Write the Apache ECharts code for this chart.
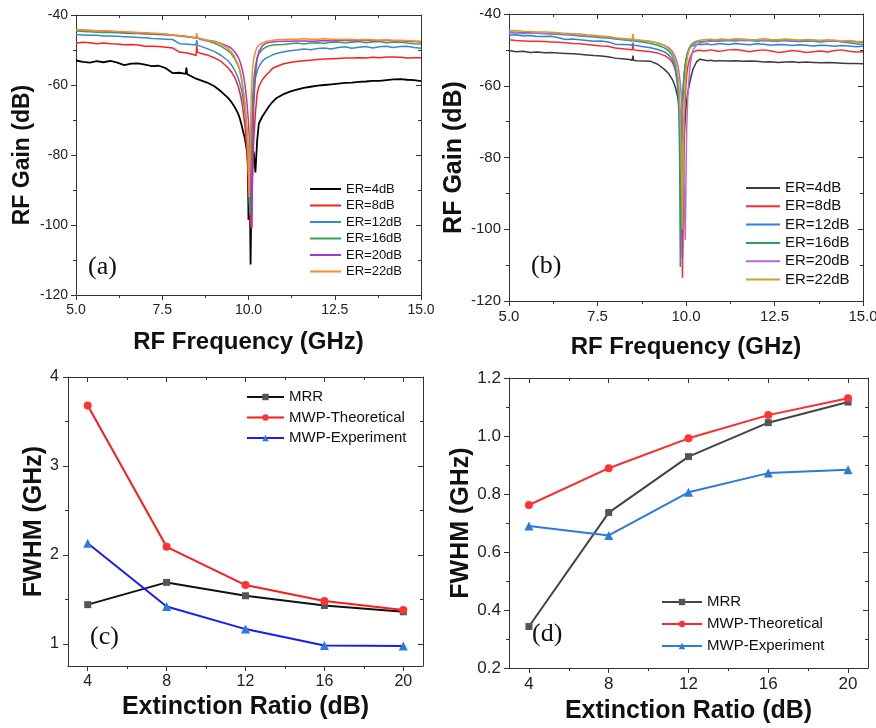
<!DOCTYPE html>
<html>
<head>
<meta charset="utf-8">
<script src="https://cdn.jsdelivr.net/npm/echarts@6/dist/echarts.min.js"></script>
<style>html,body{margin:0;padding:0;background:#fff}#c{width:876px;height:728px}</style>
</head>
<body>
<div id="c"></div>
<script>
// ---------------- DATA ----------------
const erNames = ['ER=4dB','ER=8dB','ER=12dB','ER=16dB','ER=20dB','ER=22dB'];

// Panel (a): frequency grid (GHz) and RF gain (dB)
const freqA = [
  5.0,5.2,5.4,5.6,5.8,6.0,6.2,6.4,6.6,6.8,7.0,7.2,7.4,7.6,7.8,8.0,
  8.18,8.2,8.22,8.4,
  8.48,8.5,8.52,8.6,8.8,
  9.0,9.2,9.4,9.5,9.6,9.7,9.75,9.8,9.85,9.9,9.95,9.98,
  10.0,10.02,10.04,10.06,10.08,10.1,10.12,10.15,10.2,10.25,10.3,10.4,10.5,10.6,10.7,10.8,
  11.0,11.2,11.4,11.6,11.8,12.0,12.2,12.4,12.6,12.8,13.0,13.2,13.4,13.6,13.8,14.0,14.2,14.4,14.6,14.8,15.0
];
const gainA4 = [
  -53.0,-53.4,-53.6,-53.2,-53.5,-53.1,-53.6,-54.3,-53.9,-53.8,-54.2,-54.6,-54.5,-55.2,-56.6,-56.5,
  -56.8,-55.0,-56.9,-57.8,
  -58.2,-58.3,-58.4,-58.6,-59.3,
  -60.3,-61.8,-63.6,-64.8,-66.3,-68.2,-69.6,-71.5,-73.5,-75.5,-78.5,-82.0,
  -98.5,-86.0,-92.0,-111.3,-95.0,-88.0,-80.5,-79.0,-85.0,-76.0,-71.0,-69.0,-67.5,-66.0,-64.8,-63.8,
  -62.7,-61.9,-61.3,-60.8,-60.5,-60.2,-60.0,-59.8,-59.6,-59.4,-59.3,-59.1,-59.0,-58.8,-58.8,-58.6,-58.4,-58.3,-58.5,-58.6,-58.9
];
const gainA8 = [
  -48.1,-47.8,-47.9,-48.2,-48.0,-48.2,-48.3,-48.5,-48.4,-48.6,-48.9,-48.9,-49.0,-49.2,-49.4,-50.6,
  -50.8,-50.9,-51.0,-51.3,
  -51.6,-48.8,-50.6,-50.9,-51.4,
  -52.2,-53.2,-55.0,-56.2,-57.8,-60.3,-62.2,-64.5,-67.8,-71.9,-78.0,-84.0,
  -88.0,-92.0,-96.0,-99.5,-101.0,-93.0,-84.0,-76.0,-68.0,-62.5,-60.5,-58.5,-57.3,-56.3,-55.2,-54.8,
  -54.0,-53.6,-53.3,-53.1,-52.9,-52.7,-52.6,-52.5,-52.4,-52.3,-52.3,-52.2,-52.3,-52.1,-52.2,-52.0,-52.0,-52.1,-52.3,-52.2,-52.2
];
const gainA12 = [
  -45.6,-45.7,-45.8,-45.8,-46.0,-46.0,-46.1,-46.2,-46.3,-46.4,-46.5,-46.7,-46.8,-46.9,-47.0,-48.2,
  -48.3,-48.3,-48.3,-48.5,
  -48.6,-47.2,-48.6,-48.9,-49.6,
  -50.4,-51.5,-53.0,-54.2,-55.8,-58.0,-59.6,-61.5,-64.5,-68.0,-73.0,-78.0,
  -84.0,-90.0,-96.0,-90.0,-80.0,-74.0,-68.0,-62.0,-58.0,-56.0,-54.8,-53.2,-52.4,-51.9,-51.4,-51.0,
  -50.6,-50.2,-50.0,-49.7,-49.9,-49.6,-49.4,-49.7,-49.3,-49.1,-49.5,-49.2,-49.0,-49.4,-49.1,-48.9,-49.3,-49.0,-48.9,-49.3,-49.5
];
const gainA16 = [
  -44.6,-44.7,-44.8,-44.9,-45.0,-45.0,-45.1,-45.2,-45.3,-45.3,-45.4,-45.5,-45.6,-45.7,-45.8,-46.0,
  -46.2,-46.2,-46.3,-46.4,
  -46.6,-45.8,-46.6,-46.9,-47.4,
  -48.0,-48.9,-50.2,-51.0,-52.5,-54.5,-56.0,-58.5,-62.0,-66.5,-73.0,-79.0,
  -85.0,-91.0,-97.0,-88.0,-78.0,-70.0,-64.0,-58.5,-54.5,-52.3,-51.0,-49.9,-49.2,-48.8,-48.6,-48.5,
  -48.4,-48.2,-48.0,-48.3,-48.0,-47.9,-48.1,-47.8,-47.7,-48.0,-47.8,-47.6,-47.9,-47.7,-47.6,-47.9,-47.8,-47.7,-48.0,-48.2,-48.3
];
const gainA20 = [
  -44.2,-44.3,-44.4,-44.5,-44.6,-44.7,-44.8,-44.9,-45.0,-45.1,-45.2,-45.3,-45.4,-45.5,-45.7,-45.9,
  -46.1,-46.1,-46.2,-46.4,
  -46.6,-46.0,-46.6,-46.8,-47.2,
  -47.5,-48.1,-48.9,-49.5,-50.5,-52.0,-53.2,-54.8,-57.0,-60.0,-64.5,-68.0,
  -71.0,-74.5,-79.0,-85.0,-93.0,-101.0,-80.0,-66.0,-57.0,-52.5,-50.5,-48.8,-48.1,-47.8,-47.7,-47.6,
  -47.5,-47.5,-47.4,-47.4,-47.5,-47.4,-47.3,-47.4,-47.3,-47.2,-47.4,-47.3,-47.2,-47.4,-47.3,-47.2,-47.4,-47.3,-47.5,-47.6,-47.7
];
const gainA22 = [
  -44.2,-44.3,-44.4,-44.5,-44.6,-44.6,-44.7,-44.8,-44.9,-45.0,-45.1,-45.2,-45.3,-45.5,-45.7,-45.9,
  -46.1,-46.1,-46.2,-46.4,
  -46.5,-45.2,-46.5,-46.8,-47.2,
  -47.6,-48.3,-49.5,-50.5,-52.0,-54.2,-55.7,-58.0,-61.0,-65.2,-71.5,-77.0,
  -82.0,-92.0,-84.0,-72.0,-63.0,-58.0,-55.0,-52.5,-50.5,-49.2,-48.6,-48.0,-47.6,-47.4,-47.2,-47.1,
  -47.0,-46.9,-46.9,-46.8,-46.9,-46.9,-46.8,-46.9,-47.0,-46.9,-47.0,-47.1,-47.0,-47.1,-47.2,-47.1,-47.2,-47.3,-47.3,-47.4,-47.5
];

// Panel (b)
const freqB = [
  5.0,5.2,5.4,5.6,5.8,6.0,6.2,6.4,6.6,6.8,7.0,7.2,7.4,7.6,7.8,8.0,8.2,8.4,
  8.48,8.5,8.52,8.6,8.8,
  9.0,9.2,9.4,9.5,9.6,9.65,9.7,9.75,9.78,9.8,9.82,9.84,9.86,9.88,9.9,9.92,9.94,9.96,9.98,
  10.0,10.02,10.05,10.1,10.15,10.2,10.3,10.4,10.5,10.6,10.7,10.8,10.9,
  11.0,11.2,11.4,11.6,11.8,12.0,12.2,12.4,12.6,12.8,13.0,13.2,13.4,13.6,13.8,14.0,14.2,14.4,14.6,14.8,15.0
];
const gainB4 = [
  -50.2,-50.5,-50.4,-50.7,-50.6,-50.8,-50.7,-50.9,-51.0,-51.1,-51.2,-51.4,-51.6,-51.7,-51.9,-52.3,-52.5,-52.7,
  -52.9,-51.6,-52.9,-53.0,-53.1,
  -53.2,-54.0,-55.5,-56.5,-58.0,-59.0,-60.5,-62.5,-64.0,-65.5,-67.5,-70.0,-74.0,-82.0,-108.0,-88.0,-78.0,-72.5,-69.0,
  -66.0,-64.0,-62.0,-59.5,-57.2,-55.3,-53.3,-52.6,-52.8,-53.0,-52.9,-53.1,-53.0,
  -53.0,-53.1,-53.0,-53.2,-53.1,-53.2,-53.4,-53.3,-53.5,-53.4,-53.3,-53.5,-53.4,-53.5,-53.6,-53.5,-53.6,-53.7,-53.8,-53.8,-53.9
];
const gainB8 = [
  -47.2,-47.4,-47.5,-47.6,-47.6,-47.7,-47.8,-47.9,-48.0,-48.2,-48.3,-48.5,-48.7,-48.9,-49.0,-49.5,-49.7,-49.9,
  -50.0,-48.6,-50.0,-50.1,-50.3,
  -50.5,-50.9,-51.6,-52.2,-53.3,-54.2,-55.6,-58.0,-60.0,-62.0,-65.0,-69.0,-75.0,-86.0,-113.5,-90.0,-76.0,-68.0,-63.0,
  -59.5,-57.0,-54.8,-52.6,-51.3,-50.6,-50.2,-50.1,-50.3,-50.2,-50.0,-50.2,-50.4,
  -50.3,-50.0,-49.9,-50.2,-50.5,-50.2,-50.0,-50.3,-50.7,-50.5,-50.2,-50.4,-50.7,-50.5,-50.3,-50.6,-50.2,-50.0,-50.4,-50.6,-50.5
];
const gainB12 = [
  -45.9,-45.8,-46.1,-46.0,-46.3,-46.3,-46.2,-46.6,-47.1,-47.0,-47.2,-47.4,-47.6,-47.5,-47.8,-48.4,-48.5,-48.6,
  -48.7,-48.0,-48.7,-48.8,-49.1,
  -49.4,-49.9,-50.6,-51.3,-52.5,-53.6,-55.5,-59.0,-63.0,-68.0,-80.0,-110.5,-82.0,-70.0,-64.0,-60.0,-57.5,-55.5,-54.0,
  -52.8,-51.8,-50.7,-49.6,-49.0,-48.7,-48.5,-48.4,-48.5,-48.3,-48.6,-48.5,-48.3,
  -48.3,-48.5,-48.2,-48.4,-48.6,-48.3,-48.4,-48.7,-48.5,-48.6,-48.8,-48.6,-48.7,-48.9,-48.7,-48.8,-49.0,-48.8,-48.9,-49.1,-49.0
];
const gainB16 = [
  -45.0,-45.1,-45.2,-45.2,-45.4,-45.5,-45.5,-45.7,-45.8,-45.9,-46.1,-46.3,-46.4,-46.6,-46.7,-47.0,-47.2,-47.4,
  -47.5,-46.5,-47.5,-47.6,-47.9,
  -48.2,-48.7,-49.5,-50.2,-51.4,-52.4,-54.0,-57.0,-60.0,-63.5,-70.0,-82.0,-101.0,-80.0,-68.0,-62.0,-58.5,-56.0,-54.2,
  -52.8,-51.7,-50.5,-49.2,-48.5,-48.1,-47.8,-47.7,-47.6,-47.5,-47.3,-47.5,-47.6,
  -47.5,-47.4,-47.5,-47.3,-47.4,-47.6,-47.4,-47.5,-47.6,-47.4,-47.6,-47.7,-47.5,-47.6,-47.8,-47.6,-47.4,-47.8,-48.0,-48.3,-48.5
];
const gainB20 = [
  -45.3,-45.2,-45.5,-45.4,-45.3,-45.4,-45.6,-45.5,-45.7,-45.8,-45.9,-46.1,-46.2,-46.4,-46.5,-46.8,-47.0,-47.2,
  -47.3,-46.6,-47.3,-47.3,-47.5,
  -47.7,-48.1,-48.8,-49.3,-50.2,-51.0,-52.0,-53.5,-54.8,-56.0,-57.5,-59.5,-62.0,-65.0,-69.0,-74.0,-82.0,-95.0,-103.0,
  -85.0,-72.0,-63.0,-56.0,-52.0,-50.0,-48.6,-48.0,-47.8,-47.7,-47.6,-47.5,-47.4,
  -47.4,-47.3,-47.2,-47.4,-47.3,-47.2,-47.4,-47.3,-47.2,-47.4,-47.5,-47.3,-47.4,-47.5,-47.4,-47.6,-47.5,-47.7,-47.6,-47.8,-47.9
];
const gainB22 = [
  -44.6,-44.6,-44.8,-44.9,-45.0,-45.0,-45.1,-45.2,-45.4,-45.5,-45.6,-45.8,-45.9,-46.1,-46.3,-46.6,-46.8,-47.0,
  -47.1,-45.5,-47.1,-47.2,-47.4,
  -47.6,-48.1,-48.9,-49.6,-50.8,-51.8,-53.3,-55.8,-58.0,-60.5,-64.5,-70.0,-78.0,-88.0,-100.0,-82.0,-70.0,-63.0,-58.5,
  -55.5,-53.5,-51.5,-49.6,-48.6,-48.0,-47.5,-47.3,-47.2,-47.1,-47.0,-47.2,-47.1,
  -47.0,-47.1,-46.9,-47.0,-47.2,-47.1,-46.9,-47.1,-47.2,-47.0,-47.1,-47.3,-47.1,-47.2,-47.4,-47.2,-47.3,-47.5,-47.4,-47.6,-47.7
];

// Panels (c) and (d): FWHM (GHz) vs extinction ratio (dB)
const fwhmNames = ['MRR','MWP-Theoretical','MWP-Experiment'];
const erVals = [4, 8, 12, 16, 20];
const mrrC  = [1.44, 1.69, 1.54, 1.43, 1.36];
const theoC = [3.68, 2.09, 1.66, 1.48, 1.38];
const expC  = [2.13, 1.42, 1.165, 0.98, 0.975];
const mrrD  = [0.343, 0.736, 0.929, 1.046, 1.117];
const theoD = [0.762, 0.889, 0.992, 1.072, 1.130];
const expD  = [0.69, 0.657, 0.806, 0.872, 0.884];

// Tick values
const erTicks = [4, 8, 12, 16, 20];
const erMinor = [6, 10, 14, 18];
const fwhmTicksC = [1, 2, 3, 4];
const fwhmMinorC = [1.5, 2.5, 3.5];

// ---------------- STYLE ----------------
const SANS = 'Arial, "Liberation Sans", Helvetica, sans-serif';
const SERIF = '"Times New Roman", "Liberation Serif", serif';
const AX = '#333';
const colorsA = ['#000000','#ff1f1f','#3a87cf','#33a84a','#a03ccc','#ff8a2e'];
const colorsB = ['#3c3c3c','#ff2b2b','#2d7fe3','#2aa05c','#b566e0','#c9a227'];

const grids = [
  {left: 76,  top: 15,  width: 345, height: 280},
  {left: 509, top: 14,  width: 354, height: 287},
  {left: 68,  top: 377, width: 355, height: 289},
  {left: 509, top: 378, width: 359, height: 290}
];

const xAxes = [], yAxes = [];
function addAxes(list, dim, g, cfg) {
  const mainPos = dim === 'x' ? 'bottom' : 'left';
  const mirPos = dim === 'x' ? 'top' : 'right';
  const base = () => ({gridIndex: g, type: 'value', min: cfg.min, max: cfg.max,
    splitLine: {show: false},
    axisLine: {show: true, onZero: false, lineStyle: {color: AX, width: 1}}});
  const idx = list.length;
  const main = Object.assign(base(), {
    position: mainPos,
    axisTick: {show: true, inside: false, length: 5, lineStyle: {color: AX}},
    axisLabel: {show: true, fontSize: cfg.labelSize, color: '#222', fontFamily: SANS,
      margin: cfg.margin, formatter: cfg.fmt},
    name: cfg.name, nameLocation: 'middle', nameGap: cfg.nameGap,
    nameTextStyle: {fontSize: cfg.nameSize, fontWeight: 'bold', fontFamily: SANS, color: '#111'}
  });
  const mir = Object.assign(base(), {
    position: mirPos,
    axisTick: {show: true, inside: true, length: 5, lineStyle: {color: AX}},
    axisLabel: {show: false}
  });
  if (cfg.interval != null) {
    main.interval = cfg.interval; mir.interval = cfg.interval;
    main.minorTick = {show: true, splitNumber: 2, length: 3, lineStyle: {color: AX}};
    mir.minorTick = {show: true, splitNumber: 2, length: 3, lineStyle: {color: AX}};
  } else {
    main.axisTick.customValues = cfg.major;
    main.axisLabel.customValues = cfg.major;
    mir.axisTick.customValues = cfg.major;
  }
  list.push(main, mir);
  if (cfg.minor) {
    const m1 = Object.assign(base(), {position: mainPos, axisLine: {show: false},
      axisTick: {show: true, inside: false, length: 3, customValues: cfg.minor, lineStyle: {color: AX}},
      axisLabel: {show: false}});
    const m2 = Object.assign(base(), {position: mirPos, axisLine: {show: false},
      axisTick: {show: true, inside: true, length: 3, customValues: cfg.minor, lineStyle: {color: AX}},
      axisLabel: {show: false}});
    list.push(m1, m2);
  }
  return idx;
}

const f1 = v => v.toFixed(1);
const f0 = v => String(Math.round(v));
const xa = addAxes(xAxes, 'x', 0, {min: 5, max: 15, interval: 2.5, labelSize: 14, margin: 8, fmt: f1,
  name: 'RF Frequency (GHz)', nameGap: 35, nameSize: 24});
const ya = addAxes(yAxes, 'y', 0, {min: -120, max: -40, interval: 20, labelSize: 14, margin: 8, fmt: f0,
  name: 'RF Gain (dB)', nameGap: 42, nameSize: 23});
const xb = addAxes(xAxes, 'x', 1, {min: 5, max: 15, interval: 2.5, labelSize: 15, margin: 8, fmt: f1,
  name: 'RF Frequency (GHz)', nameGap: 34, nameSize: 24});
const yb = addAxes(yAxes, 'y', 1, {min: -120, max: -40, interval: 20, labelSize: 15, margin: 8, fmt: f0,
  name: 'RF Gain (dB)', nameGap: 35, nameSize: 25});
const xc = addAxes(xAxes, 'x', 2, {min: 3, max: 21, major: erTicks, minor: erMinor, labelSize: 16, margin: 8, fmt: f0,
  name: 'Extinction Ratio (dB)', nameGap: 29, nameSize: 25});
const yc = addAxes(yAxes, 'y', 2, {min: 0.75, max: 4, major: fwhmTicksC, minor: fwhmMinorC, labelSize: 16, margin: 9, fmt: f0,
  name: 'FWHM (GHz)', nameGap: 21, nameSize: 25});
const xd = addAxes(xAxes, 'x', 3, {min: 3, max: 21, major: erTicks, minor: erMinor, labelSize: 17, margin: 8, fmt: f0,
  name: 'Extinction Ratio (dB)', nameGap: 31, nameSize: 25});
const yd = addAxes(yAxes, 'y', 3, {min: 0.2, max: 1.2, interval: 0.2, labelSize: 17, margin: 8, fmt: f1,
  name: 'FWHM (GHz)', nameGap: 33, nameSize: 25});

const series = [];
const setsA = [gainA4, gainA8, gainA12, gainA16, gainA20, gainA22];
const setsB = [gainB4, gainB8, gainB12, gainB16, gainB20, gainB22];
setsA.forEach((arr, i) => series.push({
  type: 'line', name: erNames[i], xAxisIndex: xa, yAxisIndex: ya, symbol: 'none',
  data: freqA.map((f, k) => [f, arr[k]]),
  lineStyle: {color: colorsA[i], width: i === 0 ? 1.8 : 1.5}, itemStyle: {color: colorsA[i]}
}));
setsB.forEach((arr, i) => series.push({
  type: 'line', name: erNames[i], xAxisIndex: xb, yAxisIndex: yb, symbol: 'none',
  data: freqB.map((f, k) => [f, arr[k]]),
  lineStyle: {color: colorsB[i], width: 1.5}, itemStyle: {color: colorsB[i]}
}));

const styC = [
  {line: '#111111', mark: '#555555', symbol: 'rect', size: 7},
  {line: '#ff1a1a', mark: '#ff3333', symbol: 'circle', size: 8},
  {line: '#1a1aff', mark: '#2a7ae0', symbol: 'triangle', size: 9}
];
const styD = [
  {line: '#444444', mark: '#555555', symbol: 'rect', size: 7},
  {line: '#ff2a2a', mark: '#ff3333', symbol: 'circle', size: 8},
  {line: '#2a7ae0', mark: '#2a7ae0', symbol: 'triangle', size: 9}
];
[mrrC, theoC, expC].forEach((arr, i) => series.push({
  type: 'line', name: fwhmNames[i], xAxisIndex: xc, yAxisIndex: yc,
  symbol: styC[i].symbol, symbolSize: styC[i].size, showSymbol: true,
  data: erVals.map((e, k) => [e, arr[k]]),
  lineStyle: {color: styC[i].line, width: 2}, itemStyle: {color: styC[i].mark}
}));
[mrrD, theoD, expD].forEach((arr, i) => series.push({
  type: 'line', name: fwhmNames[i], xAxisIndex: xd, yAxisIndex: yd,
  symbol: styD[i].symbol, symbolSize: styD[i].size, showSymbol: true,
  data: erVals.map((e, k) => [e, arr[k]]),
  lineStyle: {color: styD[i].line, width: 2}, itemStyle: {color: styD[i].mark}
}));

function legend(names, styles, cfg) {
  return {
    orient: 'vertical', left: cfg.left, top: cfg.top, padding: 0,
    itemWidth: cfg.w, itemHeight: cfg.h, itemGap: cfg.gap,
    textStyle: {fontSize: cfg.fs, fontFamily: SANS, color: '#111', lineHeight: cfg.lh},
    selectedMode: false,
    data: names.map((n, i) => ({name: n,
      itemStyle: cfg.noSymbol ? {color: styles[i], opacity: 0} : {color: styles[i].mark},
      lineStyle: {color: cfg.noSymbol ? styles[i] : styles[i].line, width: 2}}))
  };
}

const option = {
  animation: false,
  backgroundColor: '#ffffff',
  grid: grids.map(g => Object.assign({containLabel: false, outerBoundsMode: 'none'}, g)),
  xAxis: xAxes,
  yAxis: yAxes,
  legend: [
    legend(erNames, colorsA, {noSymbol: true, left: 309, top: 181, w: 31, h: 10, gap: 0.5, fs: 13, lh: 16}),
    legend(erNames, colorsB, {noSymbol: true, left: 745, top: 179, w: 34, h: 10, gap: 0.3, fs: 15, lh: 18}),
    legend(fwhmNames, styC, {left: 246, top: 388, w: 37, h: 8, gap: 2.5, fs: 15, lh: 18}),
    legend(fwhmNames, styD, {left: 661, top: 593, w: 40, h: 8, gap: 4, fs: 15, lh: 18})
  ],
  graphic: [
    {type: 'text', left: 88,  top: 254, style: {text: '(a)', fontSize: 26, fontFamily: SERIF, fill: '#111'}},
    {type: 'text', left: 531, top: 253, style: {text: '(b)', fontSize: 26, fontFamily: SERIF, fill: '#111'}},
    {type: 'text', left: 90,  top: 624, style: {text: '(c)', fontSize: 26, fontFamily: SERIF, fill: '#111'}},
    {type: 'text', left: 532, top: 621, style: {text: '(d)', fontSize: 26, fontFamily: SERIF, fill: '#111'}}
  ],
  series: series
};

const chart = echarts.init(document.getElementById('c'), null, {renderer: 'canvas'});
chart.setOption(option);
</script>
</body>
</html>
